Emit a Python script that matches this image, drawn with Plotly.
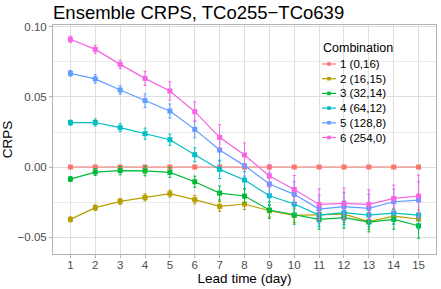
import plotly.graph_objects as go

lead_days = list(range(1, 16))
names = ["1 (0,16)", "2 (16,15)", "3 (32,14)", "4 (64,12)", "5 (128,8)", "6 (254,0)"]
colors = ["#F8766D", "#B79F00", "#00BA38", "#00BFC4", "#619CFF", "#F564E3"]

crps_1 = [0.0] * 15
crps_2 = [-0.0374, -0.0290, -0.0245, -0.0217, -0.0190, -0.0233, -0.0281, -0.0264,
          -0.0312, -0.0345, -0.0338, -0.0336, -0.0390, -0.0350, -0.0371]
crps_3 = [-0.0086, -0.0036, -0.0026, -0.0028, -0.0038, -0.0105, -0.0186, -0.0207,
          -0.0307, -0.0343, -0.0374, -0.0362, -0.0393, -0.0374, -0.0419]
crps_4 = [0.0317, 0.0318, 0.0281, 0.0238, 0.0195, 0.0088, -0.0017, -0.0093,
          -0.0205, -0.0264, -0.0343, -0.0326, -0.0343, -0.0329, -0.0343]
crps_5 = [0.0669, 0.0629, 0.0550, 0.0474, 0.0400, 0.0269, 0.0121, 0.0010,
          -0.0121, -0.0195, -0.0300, -0.0283, -0.0295, -0.0248, -0.0236]
crps_6 = [0.0912, 0.0840, 0.0733, 0.0633, 0.0543, 0.0395, 0.0212, 0.0086,
          -0.0064, -0.0160, -0.0267, -0.0260, -0.0267, -0.0224, -0.0207]

err_1 = [0.0006] * 15
err_2 = [0.0018, 0.0020, 0.0022, 0.0025, 0.0025, 0.0030, 0.0035, 0.0040,
         0.0045, 0.0050, 0.0055, 0.0060, 0.0055, 0.0055, 0.0065]
err_3 = [0.0018, 0.0025, 0.0030, 0.0035, 0.0035, 0.0040, 0.0050, 0.0050,
         0.0060, 0.0065, 0.0070, 0.0075, 0.0070, 0.0070, 0.0090]
err_4 = [0.0018, 0.0025, 0.0028, 0.0040, 0.0040, 0.0050, 0.0065, 0.0060,
         0.0070, 0.0075, 0.0080, 0.0085, 0.0085, 0.0080, 0.0100]
err_5 = [0.0020, 0.0030, 0.0030, 0.0048, 0.0050, 0.0060, 0.0080, 0.0075,
         0.0080, 0.0090, 0.0100, 0.0100, 0.0100, 0.0090, 0.0130]
err_6 = [0.0022, 0.0028, 0.0030, 0.0050, 0.0065, 0.0070, 0.0090, 0.0085,
         0.0080, 0.0100, 0.0110, 0.0110, 0.0105, 0.0095, 0.0150]

series = [crps_1, crps_2, crps_3, crps_4, crps_5, crps_6]
errors = [err_1, err_2, err_3, err_4, err_5, err_6]

y_tick_vals = [-0.05, 0.0, 0.05, 0.10]
y_tick_text = ["\u22120.05", "0.00", "0.05", "0.10"]
legend_title = "Combination"

W, H = 441, 289
ML, MR, MT, MB = 53, 5, 25, 35
PW, PH = W - ML - MR, H - MT - MB


def px_x(p):
    return (p - ML) / PW


def px_y(p):
    return (H - MB - p) / PH


fig = go.Figure()
for name, col, ys, es in zip(names, colors, series, errors):
    fig.add_trace(go.Scatter(
        x=lead_days, y=ys, name=name, mode="lines+markers",
        line=dict(color=col, width=1.2),
        marker=dict(color=col, size=5, symbol="square"),
        error_y=dict(type="data", array=es, visible=True, color=col,
                     thickness=1, width=1.5),
        showlegend=False,
    ))

# manual legend (ggplot style, inside panel)
shapes = [dict(type="rect", xref="paper", yref="paper",
               x0=px_x(318), x1=px_x(413), y0=px_y(146), y1=px_y(40),
               fillcolor="white", line=dict(width=0), layer="between")]
annotations = [dict(text=legend_title, xref="paper", yref="paper",
                    x=px_x(321), y=px_y(48.5), xanchor="left", yanchor="middle",
                    showarrow=False, font=dict(size=12.5, color="#000000"))]
row_y = [64, 78.7, 93.4, 108.1, 122.8, 137.5]
for name, col, ry in zip(names, colors, row_y):
    shapes.append(dict(type="line", xref="paper", yref="paper",
                       x0=px_x(322), x1=px_x(336), y0=px_y(ry), y1=px_y(ry),
                       line=dict(color=col, width=1.2), layer="above"))
    shapes.append(dict(type="rect", xref="paper", yref="paper",
                       x0=px_x(327.2), x1=px_x(330.8), y0=px_y(ry + 1.8), y1=px_y(ry - 1.8),
                       fillcolor=col, line=dict(width=0), layer="above"))
    annotations.append(dict(text=name, xref="paper", yref="paper",
                            x=px_x(338), y=px_y(ry), xanchor="left", yanchor="middle",
                            showarrow=False, font=dict(size=11.5, color="#000000")))

fig.update_layout(
    width=W, height=H,
    margin=dict(l=ML, r=MR, t=MT, b=MB),
    paper_bgcolor="white", plot_bgcolor="white",
    font=dict(family="Liberation Sans, Arial, sans-serif", color="#000000"),
    title=dict(text="Ensemble CRPS, TCo255\u2212TCo639", xref="paper", x=0, xanchor="left",
               yref="container", y=1 - 12.5 / H, yanchor="middle",
               font=dict(size=18.5, color="#000000")),
    showlegend=False,
    shapes=shapes,
    annotations=annotations,
    xaxis=dict(
        range=[0.3, 15.7], tickvals=lead_days, ticktext=[str(d) for d in lead_days],
        showgrid=True, gridcolor="#DEDEDE", gridwidth=1,
        showline=True, linecolor="#B3B3B3", linewidth=1, mirror=True,
        ticks="outside", ticklen=3, tickcolor="#B3B3B3",
        tickfont=dict(size=11.5, color="#4D4D4D"), ticklabelstandoff=-3,
        title=dict(text="Lead time (day)", font=dict(size=13.5), standoff=3),
        zeroline=False, automargin=False,
    ),
    yaxis=dict(
        range=[-0.0621, 0.1014], tickvals=y_tick_vals, ticktext=y_tick_text,
        showgrid=True, gridcolor="#DEDEDE", gridwidth=1,
        minor=dict(tickvals=[-0.025, 0.025, 0.075], showgrid=True,
                   gridcolor="#EBEBEB", gridwidth=0.6),
        showline=True, linecolor="#B3B3B3", linewidth=1, mirror=True,
        ticks="outside", ticklen=3, tickcolor="#B3B3B3",
        tickfont=dict(size=11.5, color="#4D4D4D"),
        title=dict(text="CRPS", font=dict(size=13.5), standoff=4),
        zeroline=False, automargin=False,
    ),
)

fig.write_html("out.html",
               config={"displayModeBar": False},
               post_script="document.body.style.margin='0';document.body.style.overflow='hidden';")
